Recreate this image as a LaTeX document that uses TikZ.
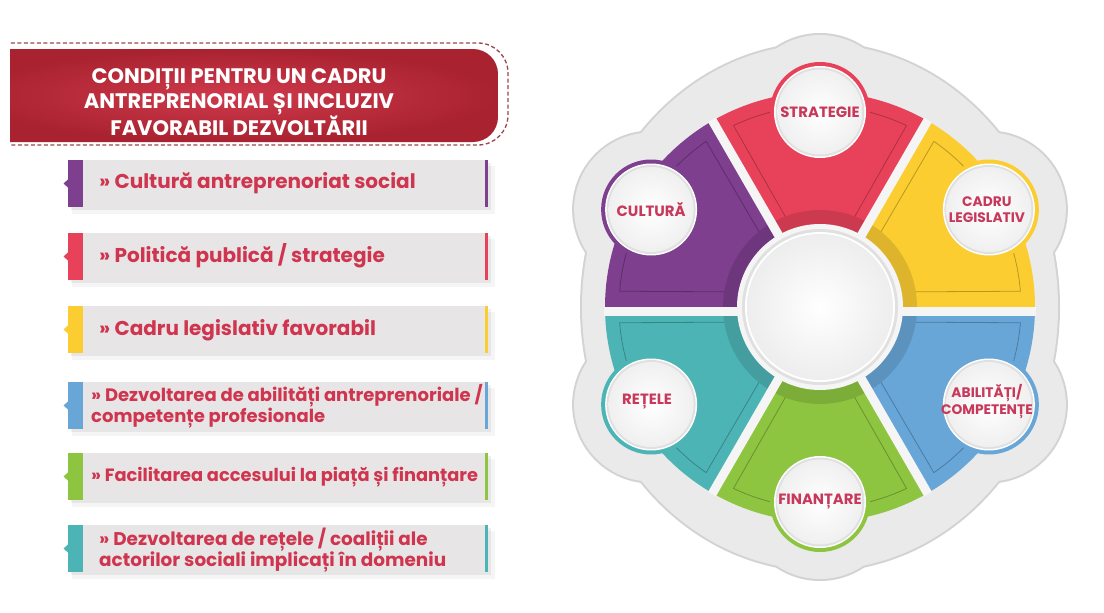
\documentclass[tikz,border=0pt]{standalone}
\usepackage{fontspec}
\setmainfont{Poppins}
\definecolor{cpurple}{HTML}{7D3F8E}
\definecolor{cred}{HTML}{E8425A}
\definecolor{cyellow}{HTML}{FBCD31}
\definecolor{cblue}{HTML}{68A6D8}
\definecolor{cgreen}{HTML}{8DC540}
\definecolor{cteal}{HTML}{4DB4B5}
\definecolor{crimson}{HTML}{D0354F}
\definecolor{lblcol}{HTML}{C7385A}
\definecolor{boxgray}{HTML}{E7E5E6}
\definecolor{bannerA}{HTML}{CF3A4C}
\definecolor{bannerB}{HTML}{A92230}
\definecolor{dashc}{HTML}{9A4650}
\definecolor{backd}{HTML}{EAEAEA}
\definecolor{backdline}{HTML}{D3D3D3}
\definecolor{gapc}{HTML}{F5F5F5}
\definecolor{ringc}{HTML}{E0E0E0}
\tikzset{
  hdr/.style={font=\bfseries\fontsize{21}{25.5}\selectfont, text=white, align=center, inner sep=0pt},
  itm/.style={font=\bfseries\fontsize{20}{19}\selectfont, text=crimson, align=left, inner sep=0pt, anchor=west},
  itmfour/.style={itm, font=\bfseries\fontsize{18}{18.5}\selectfont},
  itmsix/.style={itm, font=\bfseries\fontsize{18.4}{18.5}\selectfont},
  itmfive/.style={itm, font=\bfseries\fontsize{17.8}{18}\selectfont},
  lbl/.style={font=\bfseries\fontsize{14.9}{16.5}\selectfont, text=lblcol, align=center, inner sep=0pt},
  lbltwo/.style={lbl, font=\bfseries\fontsize{13.8}{16.5}\selectfont}
}
\begin{document}
\begin{tikzpicture}[x=1pt,y=-1pt]
\useasboundingbox (0,0) rectangle (1104,613);
\fill[white] (0,0) rectangle (1104,613);

% ---------- header banner ----------
\begin{scope}
  \clip (10,0) rectangle (560,200);
  \shade[inner color=bannerA, outer color=bannerB, rounded corners=25pt] (-30,49) rectangle (498,142);
  \draw[draw=dashc, line width=1.3pt, dash pattern=on 4pt off 2.5pt, rounded corners=30pt] (-40,43) rectangle (508,145);
\end{scope}
\node[hdr] (title) at (239,102) {CONDIȚII PENTRU UN CADRU\\ANTREPRENORIAL ȘI INCLUZIV\\FAVORABIL DEZVOLTĂRII};

% ---------- list bars ----------
\foreach \yt/\col in {160/cpurple, 233/cred, 306/cyellow, 382/cblue, 453/cgreen, 525/cteal} {
  \fill[black, opacity=0.04] (72,\yt+6) rectangle (495,\yt+54);
  \fill[black, opacity=0.06] (71,\yt+3) rectangle (491,\yt+50);
  \fill[boxgray] (83,\yt) rectangle (485,\yt+47);
  \fill[\col] (68,\yt) rectangle (83,\yt+47);
  \fill[\col] (485,\yt) rectangle (487.5,\yt+47);
  \fill[\col] (68.5,\yt+19) -- (63.5,\yt+23.5) -- (68.5,\yt+28) -- cycle;
}
\node[itm] (t1) at (99,183) {» Cultură antreprenoriat social};
\node[itm] (t2) at (99,256) {» Politică publică / strategie};
\node[itm] (t3) at (99,330) {» Cadru legislativ favorabil};
\node[itmfour] (t4) at (91,406) {» Dezvoltarea de abilități antreprenoriale /\\competențe profesionale};
\node[itmfive] (t5) at (91,477) {» Facilitarea accesului la piață și finanțare};
\node[itmsix] (t6) at (99,550) {» Dezvoltarea de rețele / coaliții ale\\actorilor sociali implicați în domeniu};

% ---------- wheel ----------
\begin{scope}[shift={(820,307)}]
  % backdrop
  \foreach \a in {30,90,...,330} \fill[backdline] (\a:195) circle[radius=79pt];
  \fill[backdline] (0,0) ellipse[x radius=240pt, y radius=265pt];
  \foreach \a in {30,90,...,330} \fill[backd] (\a:195) circle[radius=77pt];
  \fill[backd] (0,0) ellipse[x radius=238pt, y radius=263pt];
  % sectors
  \foreach \a/\col in {240/cred, 300/cyellow, 0/cblue, 60/cgreen, 120/cteal, 180/cpurple} {
    \pgfmathsetmacro{\b}{\a+60}
    \pgfmathsetmacro{\ai}{\a+9}
    \pgfmathsetmacro{\bi}{\b-9}
    \pgfmathsetmacro{\ao}{\a+4.5}
    \pgfmathsetmacro{\bo}{\b-4.5}
    \fill[\col] (0,0) -- plot[domain=\a:\b, samples=40] (\x:215) -- cycle;
    \fill[\col!88!black] plot[domain=\a:\b, samples=30] (\x:97) -- plot[domain=\b:\a, samples=30] (\x:80) -- cycle;
    \draw[\col!65!black, line width=0.8pt, opacity=0.75] (\ai:97) -- plot[domain=\ao:\bo, samples=40] (\x:201) -- (\bi:97);
  }
  % gaps
  \foreach \a in {60,120,240,300} \draw[gapc, line width=9pt] (0,0) -- (\a:216);
  \draw[gapc, line width=9pt] (-216,4.5) -- (216,4.5);
  % centre disc
  \fill[gapc] (0,0) circle[radius=83pt];
  \fill[ringc] (0,0) circle[radius=78pt];
  \fill[white] (0,0) circle[radius=75pt];
  \shade[inner color=white, outer color=black!7] (0,0) circle[radius=73pt];
  \node[circle, minimum size=140pt, inner sep=0pt] (hub) at (0,0) {};
  % label circles
  \foreach \a/\col in {270/cred, 330/cyellow, 30/cblue, 90/cgreen, 150/cteal, 210/cpurple} {
    \fill[\col] (\a:195) circle[radius=50pt];
    \fill[white] (\a:195) circle[radius=46pt];
    \fill[ringc] (\a:195) circle[radius=44.5pt];
    \shade[inner color=white, outer color=black!6] (\a:195) circle[radius=42.5pt];
  }
  \node[lbl] (strategie) at (270:195) {STRATEGIE};
  \node[lbltwo] (cadru) at ([xshift=-2pt]330:195) {CADRU\\LEGISLATIV};
  \node[lbltwo] (abil) at ([xshift=-2pt,yshift=3pt]30:195) {ABILITĂȚI/\\COMPETENȚE};
  \node[lbl] (finantare) at (90:195) {FINANȚARE};
  \node[lbl] (retele) at ([xshift=-4pt,yshift=3pt]150:195) {REȚELE};
  \node[lbl] (cultura) at (210:195) {CULTURĂ};
\end{scope}
\end{tikzpicture}
\end{document}
